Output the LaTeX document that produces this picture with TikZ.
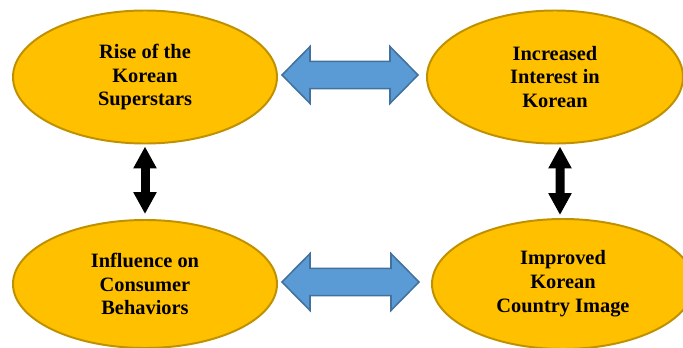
\documentclass[tikz,border=0pt]{standalone}
\usepackage{amsmath, amssymb}
\usepackage{fontspec}
\setmainfont{Liberation Serif}
\usepackage{tikz}
\usetikzlibrary{shapes,arrows,arrows.meta,positioning,calc}
\definecolor{gold}{HTML}{FFC000}
\definecolor{golddark}{HTML}{BF9000}
\definecolor{skyblue}{HTML}{5B9BD5}
\definecolor{skybluedark}{HTML}{41719C}

\tikzset{
  bubble/.style={ellipse, draw=golddark, fill=gold, line width=1.4pt,
    align=center, font=\fontsize{14.5}{17}\selectfont\bfseries, inner sep=0pt},
  bluearrow/.style={draw=skybluedark, fill=skyblue, line width=1.1pt, line join=miter},
  blackarrow/.style={line width=0.225cm, {Triangle[width=0.55cm,length=0.55cm]}-{Triangle[width=0.55cm,length=0.55cm]}}
}

% horizontal double arrow between two points
\newcommand{\dblarrow}[2]{%
  \draw[bluearrow] let \p1=(#1), \p2=(#2) in
    (\x1,\y1) -- (\x1+0.7cm,\y1+0.71cm) -- (\x1+0.7cm,\y1+0.34cm)
    -- (\x2-0.7cm,\y1+0.34cm) -- (\x2-0.7cm,\y1+0.71cm) -- (\x2,\y1)
    -- (\x2-0.7cm,\y1-0.71cm) -- (\x2-0.7cm,\y1-0.34cm)
    -- (\x1+0.7cm,\y1-0.34cm) -- (\x1+0.7cm,\y1-0.71cm) -- cycle;}

\begin{document}
\begin{tikzpicture}
\useasboundingbox (0,0) rectangle (17.075,8.675);
\clip (0,0) rectangle (17.075,8.675);

% Draw ellipses
\node[bubble, minimum width=6.6cm, minimum height=3.325cm] (rise) at (3.625,6.75) {Rise of the\\Korean\\Superstars};
\node[bubble, minimum width=6.4cm, minimum height=3.325cm] (interest) at (13.875,6.75) {Increased\\Interest in\\Korean};
\node[bubble, minimum width=6.6cm, minimum height=3.2cm] (influence) at (3.625,1.575) {Influence on\\Consumer\\Behaviors};
\node[bubble, minimum width=6.55cm, minimum height=3.25cm] (image) at (14.075,1.575) {Improved\\Korean\\Country Image};

% Draw blue arrows
\coordinate (t1) at ($(rise.east)+(0.1,0.05)$);
\coordinate (t2) at ($(interest.west)+(-0.2,0.05)$);
\coordinate (b1) at ($(influence.east)+(0.1,0.05)$);
\coordinate (b2) at ($(image.west)+(-0.3,0.05)$);
\dblarrow{t1}{t2}
\dblarrow{b1}{b2}

% Draw black arrows
\coordinate (l1) at ($(rise.south)+(0,-0.05)$);
\coordinate (l2) at ($(influence.north)+(0,0.125)$);
\coordinate (r1) at ($(interest.south)+(0.125,-0.05)$);
\coordinate (r2) at ($(image.north)+(-0.075,0.075)$);
\draw[blackarrow] (l1) -- (l2);
\draw[blackarrow] (r1) -- (r2);
\end{tikzpicture}
\end{document}
